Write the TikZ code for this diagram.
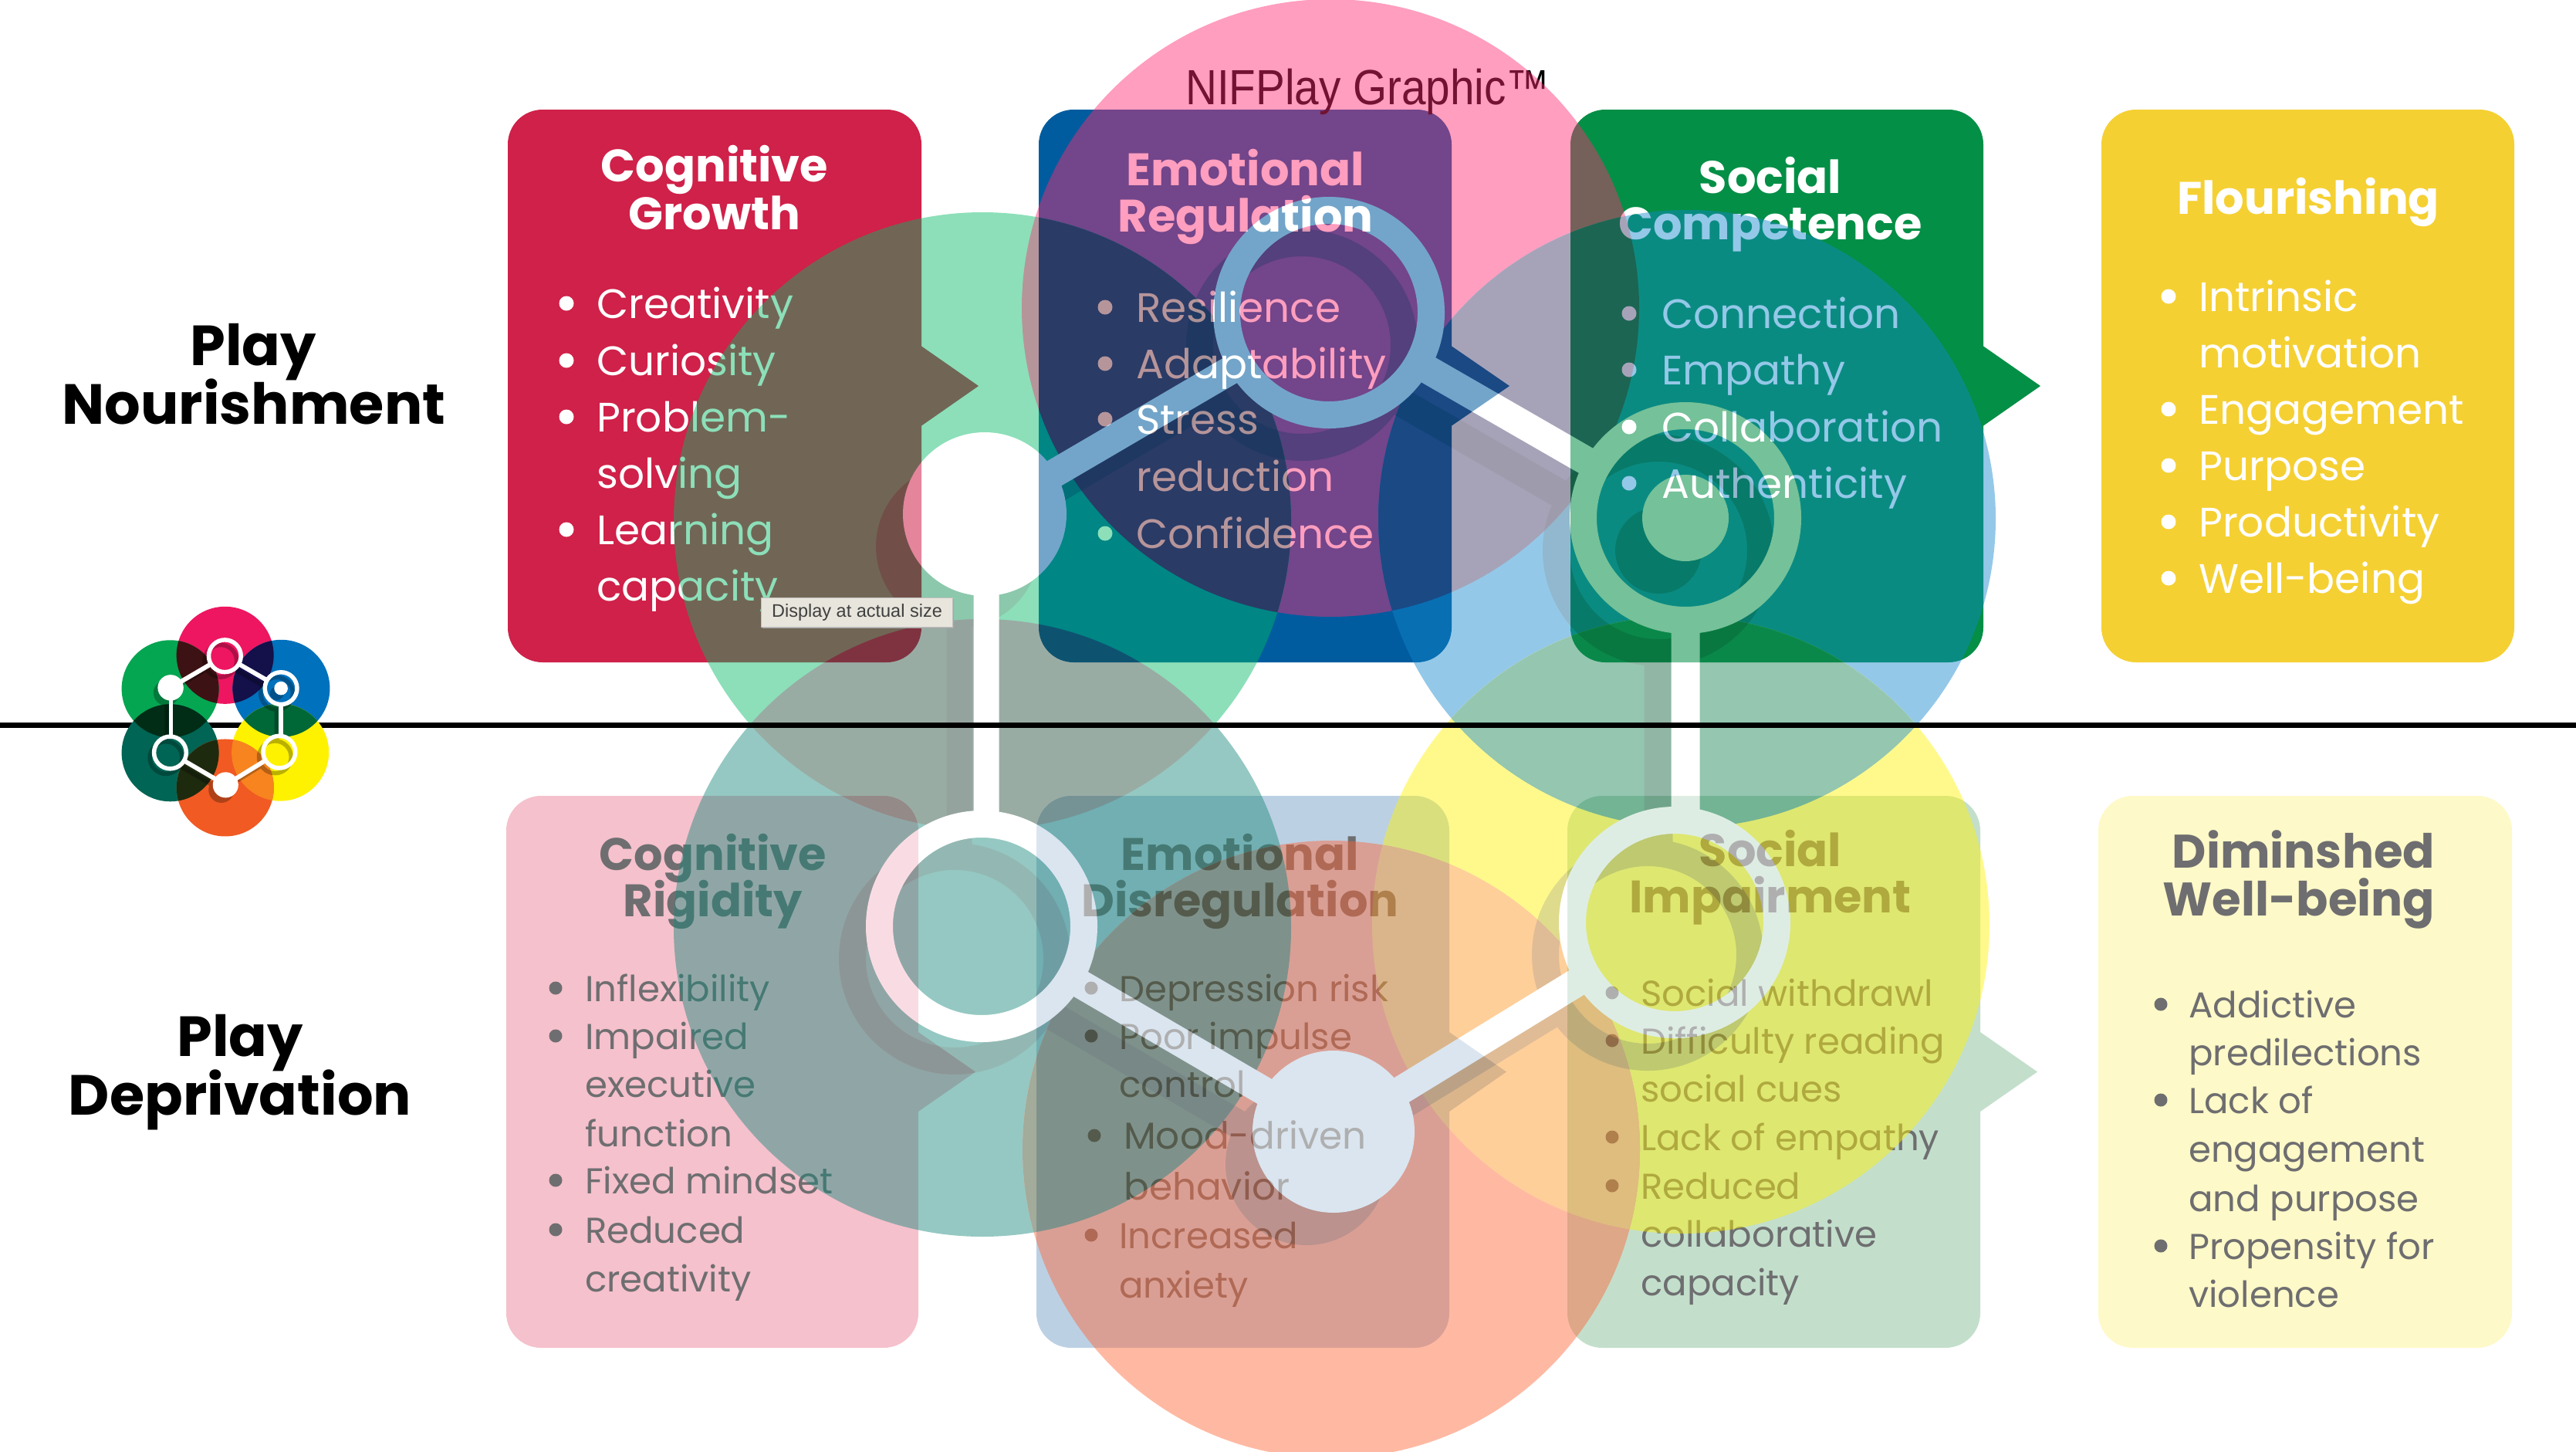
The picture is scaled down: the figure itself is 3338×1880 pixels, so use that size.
\documentclass[tikz,border=0pt]{standalone}
\usepackage{fontspec}
\usepackage{graphicx}
\setmainfont{Poppins}
\newfontfamily\tipfont{Liberation Sans}
\newfontfamily\marktitle{Liberation Sans}
\definecolor{cgrow}{RGB}{207,33,73}
\definecolor{ereg}{RGB}{0,92,159}
\definecolor{scomp}{RGB}{4,143,70}
\definecolor{flour}{RGB}{245,208,51}
\definecolor{crig}{RGB}{245,193,204}
\definecolor{edis}{RGB}{188,208,227}
\definecolor{simp}{RGB}{195,223,204}
\definecolor{dimw}{RGB}{254,249,200}
\definecolor{lowtext}{RGB}{110,110,112}
\definecolor{tipfill}{RGB}{232,229,220}
\tikzset{
  toptext/.style={anchor=base west,inner sep=0pt,text=white,font=\fontsize{53.3}{60}\selectfont},
  lowli/.style={anchor=base west,inner sep=0pt,text=lowtext,font=\fontsize{46.6}{50}\selectfont},
  tophead/.style={anchor=base,inner sep=0pt,text=white,font=\fontsize{59}{60}\selectfont\bfseries},
  lowhead/.style={anchor=base,inner sep=0pt,text=lowtext,font=\fontsize{59}{60}\selectfont\bfseries},
  sidehead/.style={anchor=base,inner sep=0pt,text=black,font=\fontsize{73.3}{74}\selectfont\bfseries}
}
\newcounter{tn}
% text line with its bullet: x, baseline y, bullet x, text
\newcommand\topli[4]{\stepcounter{tn}\ifx&#3&\else\fill[white] (#3,#2-19) circle (9.5);\fi\node[toptext] (t\thetn) at (#1,#2) {#4};}
\newcommand\lowitem[4]{\stepcounter{tn}\ifx&#3&\else\fill[lowtext] (#3,#2-17) circle (8.5);\fi\node[lowli] (t\thetn) at (#1,#2) {#4};}
\newcommand\hd[4]{\stepcounter{tn}\node[#1] (t\thetn) at (#2,#3) {#4};}
% box: left right top bottom colour (arrow tip x or empty)
\newcommand\panel[6]{\fill[#5,rounded corners=45pt] (#1,#3) rectangle (#2,#4);
  \ifx&#6&\else\fill[#5] (#2-1,{#3+(#4-#3)*0.427}) -- (#6,{(#3+#4)/2}) -- (#2-1,{#3+(#4-#3)*0.573}) -- cycle;\fi}
% logo geometry
\def\nP{1722,405}\def\nG{1276,666}\def\nB{2184,671}\def\nT{1272,1200}\def\nY{2170,1195}\def\nO{1728,1466}
\def\cP{1724,399}\def\cG{1273,675}\def\cB{2186,672}\def\cT{1273,1202}\def\cY{2178,1198}\def\cO{1725,1489}
\newcommand\lens[3]{\begin{scope}\clip (#1) circle (400);\fill[#3] (#2) circle (400);\end{scope}}
\newcommand\logoshapes[1]{%
  \pgfmathsetmacro\wa{33*\lgs}\pgfmathsetmacro\wb{37*\lgs}%
  \pgfmathsetmacro\sa{100*\lgs}\pgfmathsetmacro\sb{130*\lgs}%
  \draw[#1,line width=\wb pt,shorten <=\sb pt,shorten >=\sa pt] (\nP) -- (\nG);
  \draw[#1,line width=\wa pt,shorten <=\sa pt,shorten >=\sb pt] (1278,666) -- (1278,1200);
  \draw[#1,line width=\wb pt,shorten <=\sb pt,shorten >=\sa pt] (\nT) -- (\nO);
  \draw[#1,line width=\wb pt,shorten <=\sa pt,shorten >=\sb pt] (\nO) -- (\nY);
  \draw[#1,line width=\wb pt,shorten <=\sb pt,shorten >=\sb pt] (2184,1195) -- (\nB);
  \draw[#1,line width=\wb pt,shorten <=\sb pt,shorten >=\sb pt] (\nB) -- (\nP);
  \fill[#1,even odd rule] (\nP) circle (150) (\nP) circle (115);
  \fill[#1,even odd rule] (\nB) circle (150) (\nB) circle (115);
  \fill[#1,even odd rule] (\nT) circle (150) (\nT) circle (115);
  \fill[#1,even odd rule] (\nY) circle (150) (\nY) circle (115);
  \fill[#1] (\nB) circle (56);
  \fill[#1] (\nG) circle (106);
  \fill[#1] (\nO) circle (105);
}
\newcommand\logodraw{%
  \fill[lpink] (\cP) circle (400);
  \fill[lgreen] (\cG) circle (400);
  \fill[lblue] (\cB) circle (400);
  \fill[lyel] (\cY) circle (400);
  \fill[lteal] (\cT) circle (400);
  \fill[lorange] (\cO) circle (400);
  \lens{\cP}{\cG}{lpg}
  \lens{\cP}{\cB}{lpb}
  \lens{\cG}{\cT}{lgt}
  \lens{\cB}{\cY}{lby}
  \lens{\cT}{\cO}{lto}
  \lens{\cO}{\cY}{loy}
  \begin{scope}
    \clip (\cP) circle (400) (\cG) circle (400) (\cB) circle (400) (\cY) circle (400) (\cT) circle (400) (\cO) circle (400);
    \begin{scope}[transparency group,opacity=0.27,shift={(-35,42)}]
      \logoshapes{black}
    \end{scope}
  \end{scope}
  \logoshapes{white}
}
\begin{document}
\begin{tikzpicture}[x=1pt,y=-1pt]
\useasboundingbox (0,0) rectangle (3338,1880);
\fill[white] (0,0) rectangle (3338,1880);
\begin{scope}
\clip (0,0) rectangle (3338,1880);
% panels
\panel{658}{1194}{142}{858}{cgrow}{1268}
\panel{1346}{1881}{142}{858}{ereg}{1956}
\panel{2035}{2570}{142}{858}{scomp}{2644}
\panel{2723}{3258}{142}{858}{flour}{}
\panel{656}{1190}{1031}{1746}{crig}{1264}
\panel{1343}{1878}{1031}{1746}{edis}{1952}
\panel{2031}{2566}{1031}{1746}{simp}{2640}
\panel{2719}{3255}{1031}{1746}{dimw}{}
% title
\node[anchor=base west,inner sep=0pt,text=black] (mark) at (1536,135) {\fontsize{64}{64}\selectfont\scalebox{0.885}[1]{\marktitle NIFPlay Graphic™}};
% side labels
\hd{sidehead}{328}{473}{Play}
\hd{sidehead}{329}{549}{Nourishment}
\hd{sidehead}{311}{1368}{Play}
\hd{sidehead}{311}{1444}{Deprivation}
% top heads
\hd{tophead}{926}{235}{Cognitive}
\hd{tophead}{926}{297}{Growth}
\hd{tophead}{1614}{240}{Emotional}
\hd{tophead}{1614}{300}{Regulation}
\hd{tophead}{2294}{250}{Social}
\hd{tophead}{2294}{310}{Competence}
\hd{tophead}{2991}{277}{Flourishing}
% top lists
\topli{773}{412}{734}{Creativity}
\topli{773}{486}{734}{Curiosity}
\topli{773}{559}{734}{Problem-}
\topli{773}{632}{}{solving}
\topli{773}{705}{734}{Learning}
\topli{773}{778}{}{capacity}
\topli{1472}{417}{1432}{Resilience}
\topli{1472}{490}{1432}{Adaptability}
\topli{1472}{562}{1432}{Stress}
\topli{1472}{636}{}{reduction}
\topli{1472}{710}{1432}{Confidence}
\topli{2153}{425}{2111}{Connection}
\topli{2153}{498}{2111}{Empathy}
\topli{2153}{572}{2111}{Collaboration}
\topli{2153}{645}{2111}{Authenticity}
\topli{2849}{403}{2810}{Intrinsic}
\topli{2849}{476}{}{motivation}
\topli{2849}{549}{2810}{Engagement}
\topli{2849}{622}{2810}{Purpose}
\topli{2849}{695}{2810}{Productivity}
\topli{2849}{768}{2810}{Well-being}
% low heads
\hd{lowhead}{924}{1127}{Cognitive}
\hd{lowhead}{924}{1187}{Rigidity}
\hd{lowhead}{1607}{1127}{Emotional}
\hd{lowhead}{1607}{1187}{Disregulation}
\hd{lowhead}{2294}{1122}{Social}
\hd{lowhead}{2294}{1182}{Impairment}
\hd{lowhead}{2985}{1124}{\fontsize{61}{61}\selectfont Diminshed}
\hd{lowhead}{2979}{1186}{\fontsize{61}{61}\selectfont Well-being}
% low lists
\lowitem{758}{1297}{720}{Inflexibility}
\lowitem{758}{1359}{720}{Impaired}
\lowitem{758}{1421}{}{executive}
\lowitem{758}{1485}{}{function}
\lowitem{758}{1546}{720}{Fixed mindset}
\lowitem{758}{1610}{720}{Reduced}
\lowitem{758}{1673}{}{creativity}
\lowitem{1450}{1297}{1414}{Depression risk}
\lowitem{1450}{1359}{1414}{Poor impulse}
\lowitem{1450}{1421}{}{control}
\lowitem{1456}{1488}{1418}{\fontsize{48.5}{50}\selectfont Mood-driven}
\lowitem{1456}{1554}{}{\fontsize{48.5}{50}\selectfont behavior}
\lowitem{1450}{1617}{1414}{Increased}
\lowitem{1450}{1681}{}{anxiety}
\lowitem{2126}{1303}{2089}{Social withdrawl}
\lowitem{2126}{1365}{2089}{Difficulty reading}
\lowitem{2126}{1427}{}{social cues}
\lowitem{2126}{1490}{2089}{Lack of empathy}
\lowitem{2126}{1553}{2089}{Reduced}
\lowitem{2126}{1615}{}{collaborative}
\lowitem{2126}{1678}{}{capacity}
\lowitem{2836}{1318}{2800}{Addictive}
\lowitem{2836}{1380}{}{predilections}
\lowitem{2836}{1442}{2800}{Lack of}
\lowitem{2836}{1505}{}{engagement}
\lowitem{2836}{1569}{}{and purpose}
\lowitem{2836}{1631}{2800}{Propensity for}
\lowitem{2836}{1693}{}{violence}
% big translucent emblem over everything
\begin{scope}[transparency group,opacity=0.45]
  \def\lgs{1}
  \definecolor{lpink}{RGB}{255,42,113}\definecolor{lgreen}{RGB}{0,186,100}
  \definecolor{lblue}{RGB}{18,135,204}\definecolor{lyel}{RGB}{255,242,2}
  \definecolor{lteal}{RGB}{22,135,120}\definecolor{lorange}{RGB}{255,100,53}
  \definecolor{lpg}{RGB}{95,20,33}\definecolor{lpb}{RGB}{58,51,100}
  \definecolor{lgt}{RGB}{31,73,55}\definecolor{lby}{RGB}{18,129,80}
  \definecolor{lto}{RGB}{53,69,33}\definecolor{loy}{RGB}{255,149,33}
  \logodraw
\end{scope}
% divider
\coordinate (divl) at (0,939);
\coordinate (divr) at (3338,939);
\draw[black,line width=7pt] (divl) -- (divr);
% small emblem
\begin{scope}[shift={(292.6,934)},scale=0.1575,shift={(-1730,-940)}]
  \def\lgs{0.1575}
  \definecolor{lpink}{RGB}{238,22,96}\definecolor{lgreen}{RGB}{5,166,81}
  \definecolor{lblue}{RGB}{0,113,188}\definecolor{lyel}{RGB}{255,242,0}
  \definecolor{lteal}{RGB}{0,101,84}\definecolor{lorange}{RGB}{241,90,34}
  \definecolor{lpg}{RGB}{61,18,20}\definecolor{lpb}{RGB}{20,16,74}
  \definecolor{lgt}{RGB}{1,45,23}\definecolor{lby}{RGB}{0,104,55}
  \definecolor{lto}{RGB}{30,42,14}\definecolor{loy}{RGB}{247,132,31}
  \logodraw
\end{scope}
% tooltip
\fill[black!35] (988,776) rectangle (1236,814);
\node[draw=black!25,line width=1pt,fill=tipfill,inner sep=0pt,minimum width=248pt,minimum height=38pt,anchor=north west,text=black!75,font=\tipfont\fontsize{23.5}{24}\selectfont] (tip) at (986,774) {Display at actual size};
\end{scope}
\end{tikzpicture}
\end{document}
